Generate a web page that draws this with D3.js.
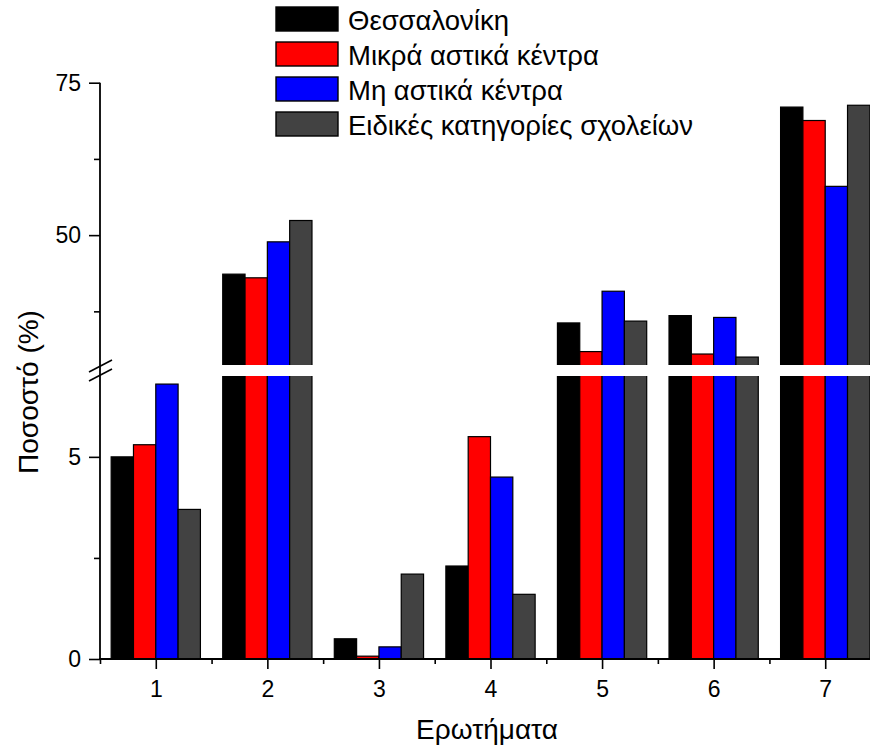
<!DOCTYPE html>
<html>
<head>
<meta charset="utf-8">
<script src="https://cdn.jsdelivr.net/npm/d3@7"></script>
<style>
  body { margin: 0; background: #fff; }
  svg { display: block; font-family: "Liberation Sans", Arial, sans-serif; }
</style>
</head>
<body>
<svg id="chart" width="870" height="750"></svg>
<script>
const questions = [1, 2, 3, 4, 5, 6, 7];
const seriesNames = ['Θεσσαλονίκη', 'Μικρά αστικά κέντρα', 'Μη αστικά κέντρα', 'Ειδικές κατηγορίες σχολείων'];
const thessaloniki = [5.0, 43.6, 0.5, 2.3, 35.6, 36.8, 71.0];
const smallUrban = [5.3, 43.0, 0.07, 5.5, 30.9, 30.5, 68.8];
const nonUrban = [6.8, 48.9, 0.3, 4.5, 40.8, 36.5, 58.0];
const specialSchools = [3.7, 52.4, 2.1, 1.6, 35.9, 30.0, 71.3];
const seriesColors = ['#000000', '#ff0000', '#0000ff', '#424242'];
const lowTicks = [0, 5], lowMinor = [2.5];
const highTicks = [50, 75], highMinor = [37.5, 62.5];

const allSeries = [thessaloniki, smallUrban, nonUrban, specialSchools];
const bars = [];
questions.forEach((q, qi) => {
    allSeries.forEach((s, si) => bars.push({ q, si, v: s[qi] }));
});

const svg = d3.select('#chart');

// broken axis: two segments
const breakLow = 7, breakHigh = 28.7;
const x = d3.scaleLinear().domain([0.5, 7.5]).range([100, 881]);
const yLow = d3.scaleLinear().domain([0, breakLow]).range([659, 376]);
const yHigh = d3.scaleLinear().domain([breakHigh, 75]).range([365, 82.7]);
const inner = d3.scaleBand().domain(d3.range(4)).range([0, x(1.4) - x(0.6)]);

const defs = svg.append('defs');
defs.append('clipPath').attr('id', 'clipLow')
    .append('rect').attr('x', 0).attr('y', yLow(breakLow)).attr('width', 870).attr('height', yLow(0) - yLow(breakLow));
defs.append('clipPath').attr('id', 'clipHigh')
    .append('rect').attr('x', 0).attr('y', yHigh(75) - 20).attr('width', 870).attr('height', yHigh(breakHigh) - yHigh(75) + 20);

const barX = d => x(d.q - 0.4) + inner(d.si);

svg.append('g').attr('clip-path', 'url(#clipLow)')
    .selectAll('rect').data(bars).join('rect')
    .attr('x', barX)
    .attr('width', inner.bandwidth())
    .attr('y', d => yLow(Math.min(d.v, breakLow + 1)))
    .attr('height', d => yLow(0) - yLow(Math.min(d.v, breakLow + 1)))
    .attr('fill', d => seriesColors[d.si])
    .attr('stroke', '#000')
    .attr('stroke-width', 1.2);

svg.append('g').attr('clip-path', 'url(#clipHigh)')
    .selectAll('rect').data(bars.filter(d => d.v > breakHigh)).join('rect')
    .attr('x', barX)
    .attr('width', inner.bandwidth())
    .attr('y', d => yHigh(d.v))
    .attr('height', d => yHigh(breakHigh) + 10 - yHigh(d.v))
    .attr('fill', d => seriesColors[d.si])
    .attr('stroke', '#000')
    .attr('stroke-width', 1.2);

// axes
const styleAxis = g => {
    g.select('.domain').remove();
    g.selectAll('line').attr('stroke', '#000').attr('stroke-width', 1.6);
    g.selectAll('text').attr('font-size', 23).attr('fill', '#000')
        .attr('font-family', '"Liberation Sans", Arial, sans-serif');
};

svg.append('g').call(d3.axisLeft(yLow).tickValues(lowTicks).tickSize(11).tickPadding(8).tickFormat(d3.format('d')))
    .attr('transform', 'translate(100,0)').call(styleAxis);
svg.append('g').call(d3.axisLeft(yLow).tickValues(lowMinor).tickSize(6).tickFormat(''))
    .attr('transform', 'translate(100,0)').call(styleAxis);
svg.append('g').call(d3.axisLeft(yHigh).tickValues(highTicks).tickSize(11).tickPadding(8).tickFormat(d3.format('d')))
    .attr('transform', 'translate(100,0)').call(styleAxis);
svg.append('g').call(d3.axisLeft(yHigh).tickValues(highMinor).tickSize(6).tickFormat(''))
    .attr('transform', 'translate(100,0)').call(styleAxis);

svg.append('g').call(d3.axisBottom(x).tickValues(questions).tickSize(10).tickPadding(12).tickFormat(d3.format('d')))
    .attr('transform', 'translate(0,659)').call(styleAxis);
svg.append('g').call(d3.axisBottom(x).tickValues(d3.range(0.5, 8, 1)).tickSize(5).tickFormat(''))
    .attr('transform', 'translate(0,659)').call(styleAxis);

svg.append('line').attr('x1', 100).attr('x2', 100).attr('y1', yHigh(75)).attr('y2', 660)
    .attr('stroke', '#000').attr('stroke-width', 1.8);
svg.append('line').attr('x1', 99).attr('x2', 881).attr('y1', 659).attr('y2', 659)
    .attr('stroke', '#000').attr('stroke-width', 1.8);

// break marks
const breakY = (yHigh(breakHigh) + yLow(breakLow)) / 2;
[-4.5, 4.5].forEach(off => {
    svg.append('line')
        .attr('x1', 89).attr('y1', breakY + off + 6)
        .attr('x2', 112).attr('y2', breakY + off - 6)
        .attr('stroke', '#000').attr('stroke-width', 1.6);
});

// axis titles
svg.append('text').attr('x', 487).attr('y', 739).attr('text-anchor', 'middle')
    .attr('font-size', 28).text('Ερωτήματα');
svg.append('text').attr('transform', 'translate(38,392) rotate(-90)').attr('text-anchor', 'middle')
    .attr('font-size', 28).text('Ποσοστό (%)');

// legend
const legend = svg.append('g').attr('transform', 'translate(276,7)');
const item = legend.selectAll('g').data(seriesNames).join('g')
    .attr('transform', (d, i) => `translate(0,${i * 35})`);
item.append('rect').attr('width', 62).attr('height', 24)
    .attr('fill', (d, i) => seriesColors[i]).attr('stroke', '#000').attr('stroke-width', 1.4);
item.append('text').attr('x', 72).attr('y', 23).attr('font-size', 27.5).text(d => d);
</script>
</body>
</html>
